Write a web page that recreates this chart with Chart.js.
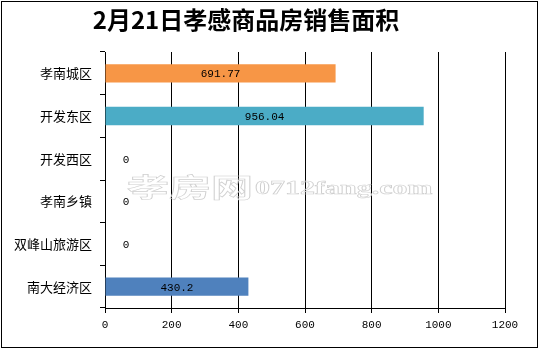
<!DOCTYPE html>
<html>
<head>
<meta charset="utf-8">
<script src="https://cdn.jsdelivr.net/npm/chart.js@4.4.0/dist/chart.umd.min.js"></script>
<style>
    html, body { margin: 0; padding: 0; background: #fff; }
    #wrap { width: 540px; height: 349px; }
</style>
</head>
<body>
<div id="wrap"><canvas id="salesChart" width="540" height="349"></canvas></div>
<script>
// ===== DATA =====
const districts = ['孝南城区', '开发东区', '开发西区', '孝南乡镇', '双峰山旅游区', '南大经济区'];
const areas = [691.77, 956.04, 0, 0, 0, 430.2];
const barColors = ['#F79646', '#4BACC6', '#4F81BD', '#4F81BD', '#4F81BD', '#4F81BD'];
const xTicks = [0, 200, 400, 600, 800, 1000, 1200];
const chartTitle = '2月21日孝感商品房销售面积';
const watermarkCn = '孝房网';
const watermarkEn = '0712fang.com';

const numFont = '11px "Liberation Mono", monospace';
const cnFont = '"Noto Sans CJK SC", sans-serif';

// рамка, заголовок, водяной знак и подписи значений
const decorPlugin = {
    id: 'decor',
    afterDatasetsDraw(chart) {
        const ctx = chart.ctx;
        const area = chart.chartArea;
        const x = chart.scales.x;

        // водяной знак
        ctx.save();
        ctx.strokeStyle = '#cfcfcf';
        ctx.lineWidth = 1;
        ctx.textBaseline = 'middle';
        ctx.textAlign = 'left';
        ctx.translate(area.left + 22, 187);
        ctx.scale(1, 0.62);
        ctx.font = 'bold 42px ' + cnFont;
        ctx.strokeText(watermarkCn, 0, 0);
        ctx.font = 'bold 30px "Liberation Serif", serif';
        ctx.strokeText(watermarkEn, 128, 4);
        ctx.restore();

        // подписи значений
        const meta = chart.getDatasetMeta(0);
        ctx.save();
        ctx.font = numFont;
        ctx.fillStyle = '#000';
        ctx.textAlign = 'center';
        ctx.textBaseline = 'middle';
        meta.data.forEach((bar, i) => {
            const v = areas[i];
            const px = v === 0 ? x.getPixelForValue(0) + 21 : (bar.base + bar.x) / 2;
            ctx.fillText(String(v), px, bar.y + 1);
        });
        ctx.restore();
    },
    afterDraw(chart) {
        const ctx = chart.ctx;
        ctx.save();
        ctx.strokeStyle = '#000';
        ctx.lineWidth = 1;
        ctx.strokeRect(1.5, 1.5, 536, 346);
        ctx.font = 'bold 24px ' + cnFont;
        ctx.fillStyle = '#000';
        ctx.textAlign = 'center';
        ctx.textBaseline = 'middle';
        ctx.fillText(chartTitle, 246, 20);
        ctx.restore();
    }
};

const ctx = document.getElementById('salesChart').getContext('2d');
new Chart(ctx, {
    type: 'bar',
    data: {
        labels: districts,
        datasets: [{
            data: areas,
            backgroundColor: barColors,
            borderWidth: 0,
            categoryPercentage: 1,
            barPercentage: 0.43
        }]
    },
    options: {
        indexAxis: 'y',
        responsive: false,
        animation: false,
        devicePixelRatio: 1,
        layout: { padding: { left: 0, top: 52, right: 35, bottom: 0 } },
        plugins: {
            legend: { display: false },
            title: { display: false },
            tooltip: { enabled: false }
        },
        scales: {
            x: {
                min: 0,
                max: 1200,
                afterBuildTicks: (scale) => { scale.ticks = xTicks.map(v => ({ value: v })); },
                afterFit: (scale) => { scale.height = 41; },
                grid: {
                    color: '#000',
                    lineWidth: 1,
                    drawTicks: true,
                    tickLength: 5,
                    tickColor: '#000'
                },
                border: { display: true, color: '#000' },
                ticks: {
                    color: '#000',
                    font: { family: '"Liberation Mono", monospace', size: 11 },
                    padding: 5,
                    maxRotation: 0,
                    callback: (value) => String(value)
                }
            },
            y: {
                afterFit: (scale) => { scale.width = 105; },
                grid: {
                    drawOnChartArea: false,
                    drawTicks: true,
                    tickLength: 5,
                    tickColor: '#000',
                    offset: true
                },
                border: { display: true, color: '#000' },
                ticks: {
                    color: '#000',
                    font: { family: '"Noto Sans CJK SC", sans-serif', size: 13 },
                    padding: 8
                }
            }
        }
    },
    plugins: [decorPlugin]
});
</script>
</body>
</html>
